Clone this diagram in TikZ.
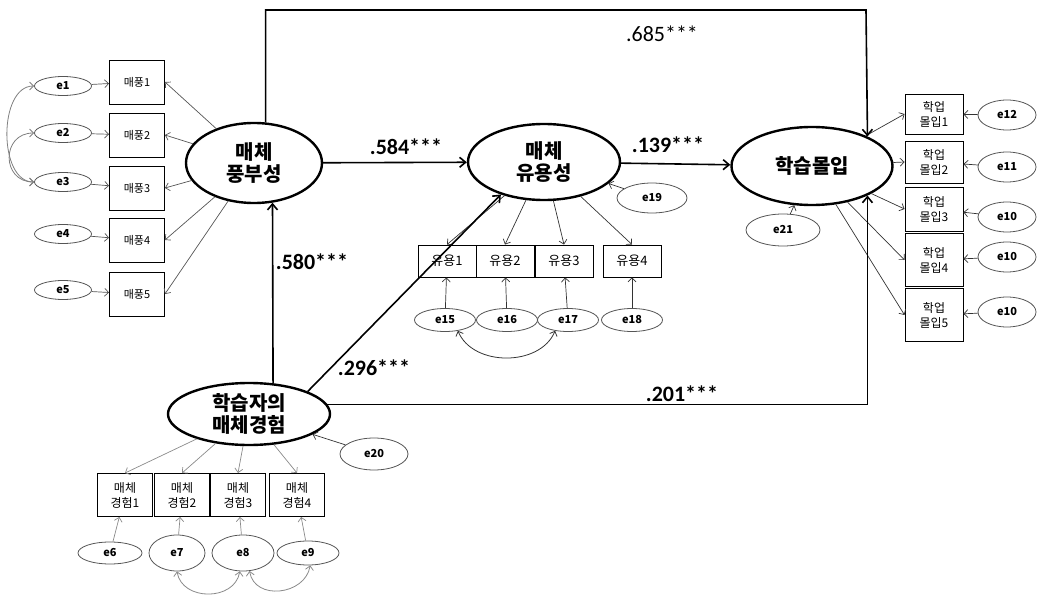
\documentclass[tikz,border=0pt]{standalone}
\usepackage{fontspec}
\setmainfont{Noto Sans CJK KR}
\newfontfamily\numfont{Carlito}
\usepackage{tikz}
\usetikzlibrary{positioning,arrows.meta,shapes.geometric,calc}
\definecolor{lightln}{HTML}{8A8A8A}
\definecolor{midln}{HTML}{555555}
\definecolor{darkln}{HTML}{333333}

\begin{document}
\begin{tikzpicture}[
  x=1pt, y=-1pt,
  every node/.style={inner sep=0pt},
  latent/.style={ellipse, draw, line width=2.4pt, align=center, font=\fontsize{20}{22}\selectfont\bfseries},
  indbox/.style={draw, line width=0.9pt, minimum width=56pt, minimum height=43pt, align=center, font=\fontsize{12}{15}\selectfont},
  err/.style={ellipse, draw=midln, line width=0.8pt, minimum width=58pt, minimum height=22pt, font=\fontsize{11}{13}\selectfont\bfseries},
  load/.style={-{Straight Barb[length=4pt,width=8pt]}, line width=0.7pt, draw=darkln},
  pathln/.style={-{Straight Barb[length=6pt,width=10pt]}, line width=1.6pt},
  cov/.style={{Straight Barb[length=4pt,width=8pt]}-{Straight Barb[length=4pt,width=8pt]}, line width=0.8pt, draw=lightln},
  coef/.style={font=\numfont\fontsize{22}{24}\selectfont\bfseries}
]
  \useasboundingbox (0,0) rectangle (1037,599);

  % latent variables
  \node[latent, minimum width=136pt, minimum height=80pt] (rich) at (254,163) {매체\\풍부성};
  \node[latent, minimum width=152pt, minimum height=76pt] (use)  at (544,162) {매체\\유용성};
  \node[latent, minimum width=161pt, minimum height=78pt] (eng)  at (812,166) {학습몰입};
  \node[latent, minimum width=162pt, minimum height=62pt] (exp)  at (249,414) {학습자의\\매체경험};

  % 매체 풍부성 indicators
  \foreach \i/\y/\ey in {1/82/86, 2/135/133, 3/188/182, 4/240/234, 5/294/290} {
    \node[indbox, minimum width=55pt, minimum height=44pt, font=\fontsize{11}{13}\selectfont] (mp\i) at (137,\y) {매풍\i};
    \node[err, minimum width=57pt, minimum height=19pt] (ep\i) at (63,\ey) {e\i};
    \draw[load, draw=midln] (rich) -- (mp\i.east);
    \draw[load, draw=midln] (ep\i) -- (mp\i);
  }
  \draw[cov, draw=gray] (ep1.west) .. controls +(-36,0) and +(-36,0) .. (ep3.west);
  \draw[cov, draw=gray] (ep2.west) .. controls +(-33,0) and +(-33,0) .. (ep3.west);

  % 매체 유용성 indicators
  \foreach \i/\x in {1/447, 2/505, 3/564, 4/632} {
    \node[indbox, minimum width=58pt, minimum height=32pt, font=\fontsize{13}{15}\selectfont] (uy\i) at (\x,261) {유용\i};
    \draw[load] (use) -- (uy\i.north);
  }
  \foreach \i/\x/\n in {1/445/15, 2/507/16, 3/568/17, 4/632/18} {
    \node[err, minimum width=61pt, minimum height=23pt] (eu\i) at (\x,320) {e\n};
    \draw[load] (eu\i) -- (uy\i);
  }
  \draw[cov, draw=darkln] (eu1.-40) .. controls +(15,36) and +(-15,36) .. (eu3.-140);
  \node[err, minimum width=70pt, minimum height=30pt] (e19) at (652,198) {e19};
  \draw[load] (e19) -- (use);

  % 학습몰입 indicators
  \foreach \i/\y/\h/\ey/\n in {1/114/40/115/12, 2/162/42/167/11, 3/209/44/217/10, 4/260/53/257/10, 5/315/53/312/10} {
    \node[indbox, minimum width=58pt, minimum height=\h pt] (mb\i) at (934,\y) {학업\\몰입\i};
    \node[err, minimum width=58pt, minimum height=30pt] (ee\i) at (1007,\ey) {e\n};
    \draw[load] (eng) -- (mb\i.west);
    \draw[load] (ee\i) -- (mb\i);
  }
  \node[err, minimum width=74pt, minimum height=32pt] (e21) at (783,230) {e21};
  \draw[load] (e21) -- (eng);

  % 학습자의 매체경험 indicators
  \foreach \i/\x/\ex/\w/\h/\n in {1/125/110/64/22/6, 2/182/177/56/36/7, 3/238/243/62/36/8, 4/297/308/62/24/9} {
    \node[indbox, minimum width=55pt, minimum height=43pt] (me\i) at (\x,495) {매체\\경험\i};
    \node[err, minimum width=\w pt, minimum height=\h pt] (ex\i) at (\ex,553) {e\n};
    \draw[load, draw=lightln] (exp) -- (me\i.north);
    \draw[load, draw=lightln] (ex\i) -- (me\i);
  }
  \draw[cov] (ex2.south) .. controls +(5,30) and +(-5,30) .. (ex3.-100);
  \draw[cov] (ex3.-70) .. controls +(5,30) and +(-5,30) .. (ex4.-80);
  \node[err, minimum width=68pt, minimum height=32pt] (e20) at (374,454) {e20};
  \draw[load] (e20) -- (exp);

  % structural paths
  \coordinate (topR) at (866,10);
  \draw[pathln] (rich) -- (use);
  \draw[pathln] (use) -- (eng);
  \draw[pathln] (exp.52) -- (rich.-65);
  \draw[pathln] (exp.21) -- (use.217);
  \draw[pathln] (rich.74) |- (topR) -- (eng.28);
  \draw[pathln] (exp.7) -| (eng.-28);

  \node[coef, font=\numfont\fontsize{22}{24}\selectfont] (c685) at (662,34) {.685***};
  \node[coef] (c584) at (406,147) {.584***};
  \node[coef] (c139) at (668,145) {.139***};
  \node[coef] (c580) at (312,262) {.580***};
  \node[coef] (c296) at (374,368) {.296***};
  \node[coef] (c201) at (682,394) {.201***};
\end{tikzpicture}
\end{document}
